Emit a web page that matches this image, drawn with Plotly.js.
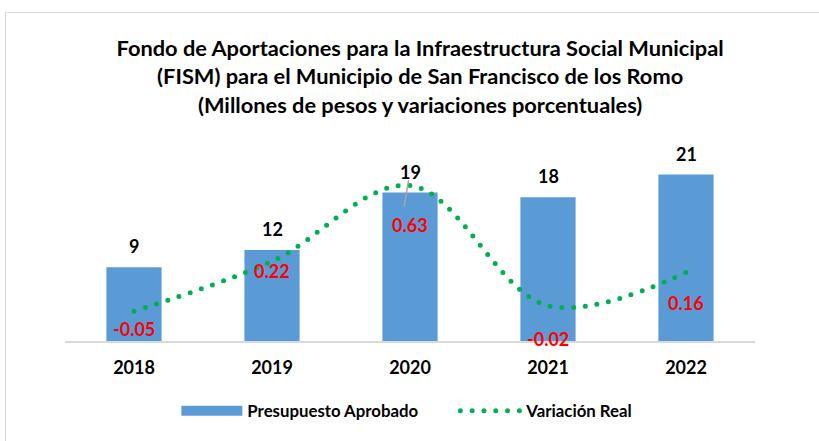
<!DOCTYPE html>
<html>
<head>
<meta charset="utf-8">
<script src="https://cdn.plot.ly/plotly-3.0.1.min.js"></script>
<style>
  html, body { margin: 0; padding: 0; background: #fff; }
  #wrap { position: relative; width: 819px; height: 441px; overflow: hidden; }
  #chart { position: absolute; left: 0; top: 0; width: 819px; height: 441px; }
  #frame { position: absolute; left: 5px; top: 12px; width: 840px; height: 460px;
           border: 1px solid #d9d9d9; pointer-events: none; }
</style>
</head>
<body>
<div id="wrap">
  <div id="chart"></div>
  <div id="frame"></div>
</div>
<script>
// ---- data ----
const years = ['2018', '2019', '2020', '2021', '2022'];
const presupuesto = [9.4, 11.6, 18.9, 18.3, 21.2];
const variacion = [-0.05, 0.22, 0.63, -0.02, 0.16];
const barName = 'Presupuesto Aprobado';
const lineName = 'Variación Real';
const titleLines = [
  'Fondo de Aportaciones para la Infraestructura Social Municipal',
  '(FISM) para el Municipio de San Francisco de los Romo',
  '(Millones de pesos y variaciones porcentuales)'
];

// ---- styling ----
const FONT = 'Lato, "Open Sans", sans-serif';
const BAR_COLOR = '#5B9BD5';
const LINE_COLOR = '#00B050';
const varShift = [-18, -10, -40, -33, -31];

const traces = [
  {
    type: 'bar', x: years, y: presupuesto, name: barName,
    marker: { color: BAR_COLOR }, width: 0.4, showlegend: false,
    legendgroup: 'p', hoverinfo: 'x+y'
  },
  {
    // legend-only entry giving the wide bar swatch
    type: 'scatter', mode: 'lines', x: [years[0]], y: [null], name: barName,
    line: { color: BAR_COLOR, width: 11 }, legendgroup: 'p', showlegend: true,
    hoverinfo: 'skip'
  },
  {
    type: 'scatter', mode: 'lines', x: years, y: variacion, name: lineName,
    yaxis: 'y2',
    line: { color: LINE_COLOR, width: 5, shape: 'spline', smoothing: 1, dash: '0px,11.8px' },
    hoverinfo: 'x+y'
  }
];

// annotations on a category axis use the category's serial index
const annotations = [];
years.forEach((yr, i) => {
  annotations.push({
    x: i, y: presupuesto[i], xref: 'x', yref: 'y',
    text: String(Math.round(presupuesto[i])), showarrow: false,
    yanchor: 'bottom', yshift: 8,
    font: { family: FONT, size: 18, color: '#000000', weight: 'bold' }
  });
  annotations.push({
    x: i, y: variacion[i], xref: 'x', yref: 'y2',
    text: variacion[i].toFixed(2), showarrow: false,
    yanchor: 'middle', yshift: varShift[i],
    font: { family: FONT, size: 18, color: '#FF0000', weight: 'bold' }
  });
});

const layout = {
  width: 819, height: 441,
  margin: { l: 65, r: 64, t: 140, b: 100 },
  paper_bgcolor: '#ffffff', plot_bgcolor: '#ffffff',
  font: { family: FONT, color: '#000000' },
  title: {
    text: titleLines.map(t => '<b>' + t + '</b>').join('<br>'),
    font: { family: FONT, size: 21.8, color: '#000000' },
    x: 0.513, xanchor: 'center', xref: 'container',
    y: 0.873, yanchor: 'top', yref: 'container'
  },
  xaxis: {
    type: 'category', categoryorder: 'array', categoryarray: years,
    range: [-0.5, 4.5], showgrid: false, zeroline: false,
    showline: true, linecolor: '#d9d9d9', linewidth: 2,
    ticks: '', tickfont: { family: FONT, size: 18, color: '#000000', weight: 'bold' },
    ticklabelstandoff: 9
  },
  yaxis: {
    range: [0, 25.6], visible: false, showgrid: false, zeroline: false
  },
  yaxis2: {
    range: [-0.211, 0.876], overlaying: 'y', side: 'right',
    visible: false, showgrid: false, zeroline: false
  },
  showlegend: true,
  legend: {
    orientation: 'h', x: 0.556, xanchor: 'center', xref: 'container',
    y: 0.108, yanchor: 'top', yref: 'container',
    itemwidth: 61, entrywidth: 203, traceorder: 'normal',
    font: { family: FONT, size: 16.8, color: '#000000', weight: 'bold' }
  },
  annotations: annotations,
  shapes: [
    { type: 'line', xref: 'x', yref: 'y', x0: 1.957, y0: 17.1, x1: 1.99, y1: 20.5,
      line: { color: '#a6a6a6', width: 1.5 } }
  ]
};

Plotly.newPlot('chart', traces, layout, { displayModeBar: false, staticPlot: true }).then(gd => {
  gd.querySelectorAll('.scatterlayer .js-line').forEach(p => {
    p.style.strokeLinecap = 'round';
  });
  const legendLines = gd.querySelectorAll('.legend .js-line');
  if (legendLines.length > 1) legendLines[legendLines.length - 1].style.strokeLinecap = 'round';
});
</script>
</body>
</html>
